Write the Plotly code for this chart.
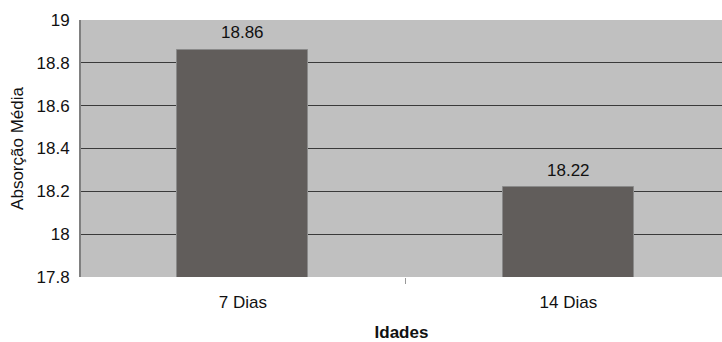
import plotly.graph_objects as go

# Mean absorption by age
categories = ["7 Dias", "14 Dias"]
values = [18.86, 18.22]
y_ticks = [17.8, 18, 18.2, 18.4, 18.6, 18.8, 19]
y_tick_labels = ["17.8", "18", "18.2", "18.4", "18.6", "18.8", "19"]

font_family = "Liberation Sans, Arial, sans-serif"

fig = go.Figure(
    go.Bar(
        x=categories,
        y=values,
        width=0.403,
        marker=dict(color="#615D5B", line=dict(color="#8A8A8A", width=1)),
    )
)

# Value labels floating above each bar
for cat, val in zip(categories, values):
    fig.add_annotation(
        x=cat,
        y=val,
        text=f"{val:.2f}",
        showarrow=False,
        yanchor="middle",
        yshift=17,
        font=dict(size=17, color="#111111", family=font_family),
    )

fig.update_layout(
    width=722,
    height=342,
    margin=dict(l=81, r=0, t=20, b=65),
    paper_bgcolor="white",
    plot_bgcolor="#C0C0C0",
    showlegend=False,
    bargap=0,
    font=dict(family=font_family, size=17, color="#111111"),
)

fig.update_xaxes(
    range=[-0.497, 1.472],
    tickson="boundaries",
    ticks="outside",
    ticklen=6,
    tickcolor="#999999",
    tickwidth=1,
    ticklabelstandoff=13,
    showgrid=False,
    showline=False,
    zeroline=False,
    tickfont=dict(size=17),
    title=dict(text="<b>Idades</b>", font=dict(size=17), standoff=19),
)

fig.update_yaxes(
    range=[17.8, 19],
    tickmode="array",
    tickvals=y_ticks,
    ticktext=y_tick_labels,
    ticks="",
    ticklabelstandoff=6,
    showgrid=True,
    gridcolor="#3A3A3A",
    gridwidth=1,
    showline=True,
    linecolor="#808080",
    linewidth=2,
    zeroline=False,
    tickfont=dict(size=17),
    title=dict(text="Absorção Média", font=dict(size=17), standoff=9),
)

fig.write_html("out.html")
